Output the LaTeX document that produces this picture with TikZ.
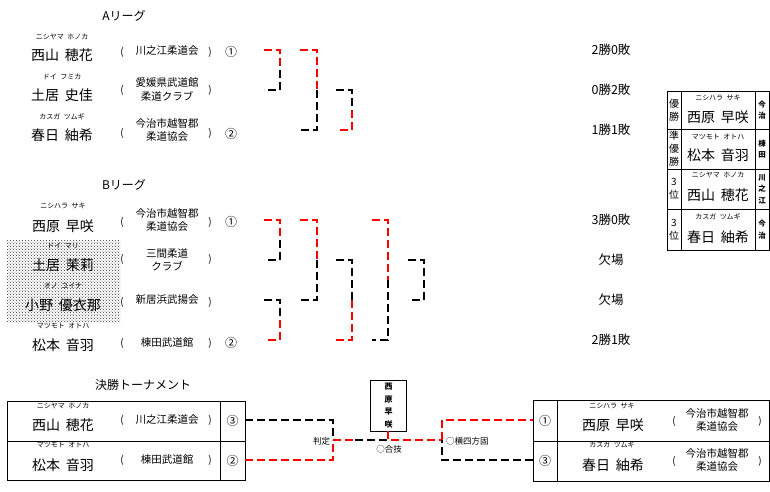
\documentclass[tikz,border=0pt]{standalone}
\usepackage{fontspec}
\setmainfont{Noto Sans CJK JP}
\usetikzlibrary{calc,patterns}
\newcommand\gp{\hspace{0.4em}}
\newcommand\fgp{\hspace{0.5em}}
\tikzset{
  base/.style={inner sep=0pt, outer sep=0pt},
  hd/.style={base, font=\fontsize{12}{14}\selectfont},
  furi/.style={base, font=\fontsize{7}{8}\selectfont},
  nm/.style={base, font=\fontsize{14}{16}\selectfont},
  club/.style={base, font=\fontsize{10.5}{13.5}\selectfont, align=center},
  paren/.style={base, font=\fontsize{10}{12}\selectfont},
  num/.style={base, font=\fontsize{12}{14}\selectfont},
  res/.style={base, font=\fontsize{12.5}{14}\selectfont},
  lbl/.style={base, font=\fontsize{8.5}{10}\selectfont},
  frame/.style={draw, line width=0.8pt, base},
  vt/.style={align=center, font=\fontsize{10}{13}\selectfont},
  vts/.style={align=center, font=\bfseries\fontsize{7.5}{11.5}\selectfont},
  brkline/.style={line width=2pt, dash pattern=on 8pt off 4pt},
  rd/.style={brkline, red},
  bk/.style={brkline, black},
}
\newcommand\bracketpair[6]{%
  \coordinate (mid) at ($(#2 |- #3)!0.5!(#2 |- #4)$);
  \draw[#5] (#1 |- #3) -- (#2 |- #3) -- (mid);
  \draw[#6] (mid) -- (#2 |- #4) -- (#1 |- #4);
}
\begin{document}
\begin{tikzpicture}[x=1pt,y=-1pt]
\useasboundingbox[fill=white] (0,0) rectangle (770,491);

% ---------- A league ----------
\node[hd] (Ah) at (124,16) {Aリーグ};
\node[furi] (Af1) at (62,37) {ニシヤマ\fgp ホノカ};
\node[nm] (An1) at (62,55) {西山\gp 穂花};
\node[paren] (Alp1) at (122,52) {(};
\node[club] (Ac1) at (167,51) {川之江柔道会};
\node[paren] (Arp1) at (210,52) {)};
\node[num] (Anum1) at (231,52) {①};

\node[furi] (Af2) at (62,77) {ドイ\fgp フミカ};
\node[nm] (An2) at (62,95) {土居\gp 史佳};
\node[paren] (Alp2) at (122,90) {(};
\node[club] (Ac2) at (167,89.5) {愛媛県武道館\\柔道クラブ};
\node[paren] (Arp2) at (210,90) {)};

\node[furi] (Af3) at (62,117) {カスガ\fgp ツムギ};
\node[nm] (An3) at (62,135) {春日\gp 紬希};
\node[paren] (Alp3) at (122,133) {(};
\node[club] (Ac3) at (167,130) {今治市越智郡\\柔道協会};
\node[paren] (Arp3) at (210,133) {)};
\node[num] (Anum3) at (231,134) {②};

\node[res] (Ar1) at (611,50) {2勝0敗};
\node[res] (Ar2) at (611,90) {0勝2敗};
\node[res] (Ar3) at (611,130) {1勝1敗};

% bracket columns and rows
\coordinate (x1) at (264,0); \coordinate (x1r) at (280,0);
\coordinate (x2) at (300,0); \coordinate (x2r) at (317,0);
\coordinate (x3) at (336,0); \coordinate (x3r) at (352,0);
\coordinate (x4) at (372,0); \coordinate (x4r) at (388,0);
\coordinate (x5) at (408,0); \coordinate (x5r) at (424,0);
\coordinate (a1) at (0,50); \coordinate (a2) at (0,90); \coordinate (a3) at (0,130);
\coordinate (b1) at (0,220); \coordinate (b2) at (0,260);
\coordinate (b3) at (0,300); \coordinate (b4) at (0,340);

\bracketpair{x1}{x1r}{a1}{a2}{rd}{bk}
\bracketpair{x2}{x2r}{a1}{a3}{rd}{bk}
\bracketpair{x3}{x3r}{a2}{a3}{bk}{rd}

% ---------- B league ----------
\fill[pattern=crosshatch dots, pattern color=black!80] (7,240) rectangle (120,322);
\node[hd] (Bh) at (124,185) {Bリーグ};
\node[furi] (Bf1) at (63,206) {ニシハラ\fgp サキ};
\node[nm] (Bn1) at (63,226) {西原\gp 早咲};
\node[paren] (Blp1) at (122,222) {(};
\node[club] (Bc1) at (167,220) {今治市越智郡\\柔道協会};
\node[paren] (Brp1) at (210,222) {)};
\node[num] (Bnum1) at (231,222) {①};

\node[furi] (Bf2) at (63,246) {ドイ\fgp マリ};
\node[nm] (Bn2) at (63,265) {土居\gp 茉莉};
\node[paren] (Blp2) at (122,259) {(};
\node[club] (Bc2) at (167,260) {三間柔道\\クラブ};
\node[paren] (Brp2) at (210,259) {)};

\node[furi] (Bf3) at (63,286) {オノ\fgp ユイナ};
\node[nm] (Bn3) at (63,305) {小野\gp 優衣那};
\node[paren] (Blp3) at (122,302) {(};
\node[club] (Bc3) at (167,300) {新居浜武揚会};
\node[paren] (Brp3) at (210,302) {)};

\node[furi] (Bf4) at (63,326) {マツモト\fgp オトハ};
\node[nm] (Bn4) at (63,345) {松本\gp 音羽};
\node[paren] (Blp4) at (122,343) {(};
\node[club] (Bc4) at (167,343) {棟田武道館};
\node[paren] (Brp4) at (210,343) {)};
\node[num] (Bnum4) at (231,343) {②};

\node[res] (Br1) at (611,220) {3勝0敗};
\node[res] (Br2) at (611,260) {欠場};
\node[res] (Br3) at (611,300) {欠場};
\node[res] (Br4) at (611,340) {2勝1敗};

\bracketpair{x1}{x1r}{b1}{b2}{rd}{bk}
\bracketpair{x2}{x2r}{b1}{b3}{rd}{bk}
\bracketpair{x1}{x1r}{b3}{b4}{bk}{rd}
\bracketpair{x3}{x3r}{b2}{b4}{bk}{rd}
\bracketpair{x4}{x4r}{b1}{b4}{rd}{bk}
\bracketpair{x5}{x5r}{b2}{b3}{bk}{bk}

% ---------- result table ----------
\node[frame, vt, minimum width=14pt, minimum height=38pt] (T1a) at (674,110) {優\\勝};
\node[frame, minimum width=74pt, minimum height=38pt] (T1b) at (718,110) {};
\node[frame, vts, minimum width=14pt, minimum height=38pt] (T1c) at (762,110) {今\\治};
\node[furi] (T1f) at (718,98) {ニシハラ\fgp サキ};
\node[nm] (T1n) at (718,117) {西原\gp 早咲};

\node[frame, vt, minimum width=14pt, minimum height=40pt] (T2a) at (674,149) {準\\優\\勝};
\node[frame, minimum width=74pt, minimum height=40pt] (T2b) at (718,149) {};
\node[frame, vts, minimum width=14pt, minimum height=40pt] (T2c) at (762,149) {棟\\田};
\node[furi] (T2f) at (718,137) {マツモト\fgp オトハ};
\node[nm] (T2n) at (718,155) {松本\gp 音羽};

\node[frame, vt, minimum width=14pt, minimum height=40pt] (T3a) at (674,189) {3\\位};
\node[frame, minimum width=74pt, minimum height=40pt] (T3b) at (718,189) {};
\node[frame, vts, minimum width=14pt, minimum height=40pt] (T3c) at (762,189) {川\\之\\江};
\node[furi] (T3f) at (718,175) {ニシヤマ\fgp ホノカ};
\node[nm] (T3n) at (718,195) {西山\gp 穂花};

\node[frame, vt, minimum width=14pt, minimum height=41pt] (T4a) at (674,229.5) {3\\位};
\node[frame, minimum width=74pt, minimum height=41pt] (T4b) at (718,229.5) {};
\node[frame, vts, minimum width=14pt, minimum height=41pt] (T4c) at (762,229.5) {今\\治};
\node[furi] (T4f) at (718,217) {カスガ\fgp ツムギ};
\node[nm] (T4n) at (718,237) {春日\gp 紬希};

% ---------- final tournament ----------
\node[hd] (Fh) at (143,385) {決勝トーナメント};

\node[frame, minimum width=213pt, minimum height=40pt] (L1) at (113.5,421) {};
\node[frame, num, minimum width=25pt, minimum height=40pt] (L1n) at (232.5,421) {③};
\node[frame, minimum width=213pt, minimum height=39pt] (L2) at (113.5,460.5) {};
\node[frame, num, minimum width=25pt, minimum height=39pt] (L2n) at (232.5,460.5) {②};
\node[furi] (L1f) at (63,406) {ニシヤマ\fgp ホノカ};
\node[nm] (L1nm) at (63,425) {西山\gp 穂花};
\node[paren] (L1lp) at (122,420) {(};
\node[club] (L1c) at (167,420) {川之江柔道会};
\node[paren] (L1rp) at (210,420) {)};
\node[furi] (L2f) at (63,445) {マツモト\fgp オトハ};
\node[nm] (L2nm) at (63,465) {松本\gp 音羽};
\node[paren] (L2lp) at (122,460) {(};
\node[club] (L2c) at (167,460) {棟田武道館};
\node[paren] (L2rp) at (210,460) {)};

\node[frame, minimum width=24pt, minimum height=41pt] (R1n) at (545,420.5) {\fontsize{12}{14}\selectfont ①};
\node[frame, minimum width=212pt, minimum height=41pt] (R1) at (663,420.5) {};
\node[frame, minimum width=24pt, minimum height=40pt] (R2n) at (545,461) {\fontsize{12}{14}\selectfont ③};
\node[frame, minimum width=212pt, minimum height=40pt] (R2) at (663,461) {};
\node[furi] (R1f) at (612,406) {ニシハラ\fgp サキ};
\node[nm] (R1nm) at (613,425) {西原\gp 早咲};
\node[paren] (R1lp) at (674,421) {(};
\node[club] (R1c) at (717,420) {今治市越智郡\\柔道協会};
\node[paren] (R1rp) at (760,421) {)};
\node[furi] (R2f) at (612,445) {カスガ\fgp ツムギ};
\node[nm] (R2nm) at (613,465) {春日\gp 紬希};
\node[paren] (R2lp) at (674,461) {(};
\node[club] (R2c) at (717,460) {今治市越智郡\\柔道協会};
\node[paren] (R2rp) at (760,461) {)};

\node[frame, align=center, font=\bfseries\fontsize{8}{12.5}\selectfont,
      minimum width=36pt, minimum height=51pt] (W) at (388.5,405.5) {西\\原\\早\\咲};

\coordinate (jL) at (333,440);
\coordinate (mL) at (355,440);
\coordinate (jC) at (388,440);
\coordinate (jR) at (442,440);

\draw[bk] (L1n.east |- 0,420) -| (jL);
\draw[rd] (L2n.east |- 0,460) -| (jL);
\draw[rd] (jL) -- (mL);
\draw[bk] (mL) -- (jC);
\draw[rd] (W.south -| jC) -- (jC) -- (jR);
\draw[rd] (jR) |- (R1n.west |- 0,420);
\draw[bk] (R2n.west |- 0,460) -| (jR);

\node[lbl, anchor=east] (Lj) at (330,441) {判定};
\node[lbl] (Lc) at (389,449) {○合技};
\node[lbl, anchor=west] (Lr) at (446,441) {○横四方固};
\end{tikzpicture}
\end{document}
